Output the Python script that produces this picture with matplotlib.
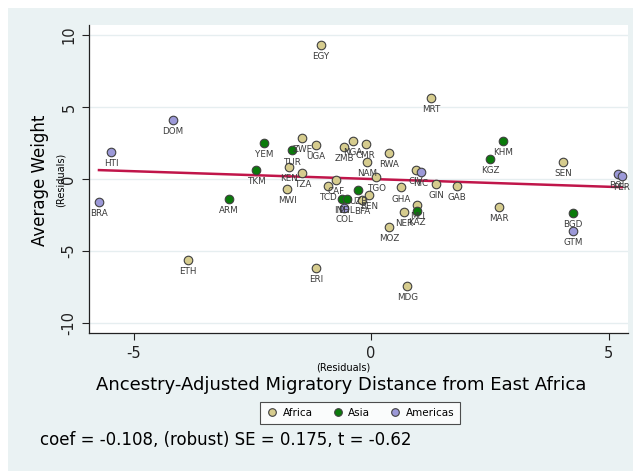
import numpy as np
import matplotlib
matplotlib.use('Agg')
import matplotlib.pyplot as plt
from matplotlib.patches import Rectangle
from matplotlib.lines import Line2D

# residual data
africa_codes = ['EGY', 'MRT', 'ETH', 'ERI', 'MDG', 'ZWE', 'UGA', 'KEN', 'TZA', 'MWI',
                'ZMB', 'NGA', 'CMR', 'NAM', 'RWA', 'CAF', 'TCD', 'TGO', 'BEN', 'BFA',
                'GHA', 'CIV', 'GIN', 'GAB', 'MLI', 'NER', 'MOZ', 'MAR', 'SEN']
africa_x = [-1.05, 1.26, -3.85, -1.16, 0.76, -1.45, -1.16, -1.73, -1.45, -1.77,
            -0.57, -0.38, -0.11, -0.08, 0.38, -0.74, -0.91, 0.11, -0.04, -0.19,
            0.63, 0.95, 1.37, 1.81, 0.97, 0.69, 0.38, 2.69, 4.04]
africa_y = [9.31, 5.63, -5.63, -6.18, -7.43, 2.85, 2.36, 0.83, 0.42, -0.69,
            2.22, 2.64, 2.43, 1.18, 1.81, -0.07, -0.49, 0.14, -1.11, -1.46,
            -0.56, 0.63, -0.35, -0.49, -1.81, -2.29, -3.33, -1.94, 1.18]

asia_codes = ['YEM', 'TKM', 'TUR', 'ARM', 'UZB', 'IND', 'PHL', 'KAZ', 'KHM', 'KGZ', 'BGD']
asia_x = [-2.25, -2.42, -1.66, -2.99, -0.27, -0.61, -0.51, 0.97, 2.78, 2.51, 4.25]
asia_y = [2.50, 0.63, 2.01, -1.39, -0.76, -1.39, -1.39, -2.22, 2.64, 1.39, -2.36]

amer_codes = ['DOM', 'HTI', 'BRA', 'COL', 'NIC', 'GTM', 'BOL', 'PER']
amer_x = [-4.17, -5.47, -5.73, -0.57, 1.05, 4.25, 5.20, 5.28]
amer_y = [4.10, 1.88, -1.60, -2.01, 0.49, -3.61, 0.35, 0.21]

coef = -0.108
se = 0.175
tstat = -0.62

fig = plt.figure(figsize=(6.33, 4.71), dpi=100, facecolor='white')
fig.patches.append(Rectangle((8/633, 0), 1, 1 - 8/471, transform=fig.transFigure,
                             facecolor='#eaf2f3', edgecolor='none', zorder=-10))

ax = fig.add_axes([89/633, 1 - 333/471, 539/633, 308/471])
ax.set_facecolor('white')

groups = [
    (africa_codes, africa_x, africa_y, '#d6cc8e', 'Africa'),
    (asia_codes, asia_x, asia_y, '#0a7a0a', 'Asia'),
    (amer_codes, amer_x, amer_y, '#9c99d8', 'Americas'),
]
for codes, xs, ys, col, name in groups:
    ax.scatter(xs, ys, s=38, color=col, edgecolors='#404040', linewidths=0.8, zorder=3)
    for c, x, y in zip(codes, xs, ys):
        ax.annotate(c, (x, y), xytext=(0, -8.6), textcoords='offset points',
                    ha='center', va='center', fontsize=6.3, color='#3a3a3a', zorder=4)

allx = np.array(africa_x + asia_x + amer_x)
lx = np.array([allx.min(), allx.max()])
ax.plot(lx, coef * lx, color='#c0154a', lw=1.8, zorder=2)

ax.set_xlim(-5.94, 5.41)
ax.set_ylim(-10.7, 10.7)
ax.set_xticks([-5, 0, 5])
ax.set_yticks([-10, -5, 0, 5, 10])
ax.set_xticklabels(['-5', '0', '5'])
ax.set_yticklabels(['-10', '-5', '0', '5', '10'], rotation=90, va='center')
ax.tick_params(direction='out', length=5, width=0.8, colors='#222222', labelsize=10.5, pad=4)
ax.yaxis.grid(True, color='#e6eef0', lw=1)
ax.set_axisbelow(True)
for s in ['top', 'right']:
    ax.spines[s].set_visible(False)
for s in ['left', 'bottom']:
    ax.spines[s].set_color('#222222')
    ax.spines[s].set_linewidth(0.9)

fig.text(40/633, 1 - 180/471, 'Average Weight', rotation=90, ha='center', va='center', fontsize=12)
fig.text(61/633, 1 - 180/471, '(Residuals)', rotation=90, ha='center', va='center', fontsize=7)
fig.text(343/633, 1 - 367/471, '(Residuals)', ha='center', va='center', fontsize=7)
fig.text(341/633, 1 - 385/471, 'Ancestry-Adjusted Migratory Distance from East Africa',
         ha='center', va='center', fontsize=13)

handles = [Line2D([], [], marker='o', ls='', markersize=5.5, markerfacecolor=g[3],
                  markeredgecolor='#404040', markeredgewidth=0.8, label=g[4]) for g in groups]
leg = fig.legend(handles=handles, loc='center', bbox_to_anchor=(360/633, 1 - 413/471),
                 ncol=3, fontsize=7.5, frameon=True, fancybox=False, edgecolor='#222222',
                 handletextpad=0.4, handlelength=1.2, columnspacing=1.8, borderpad=0.6)
leg.get_frame().set_linewidth(0.8)

fig.text(40/633, 1 - 440/471, f'coef = {coef}, (robust) SE = {se}, t = {tstat}',
         ha='left', va='center', fontsize=12)

fig.savefig('out.png', dpi=100, facecolor=fig.get_facecolor())
